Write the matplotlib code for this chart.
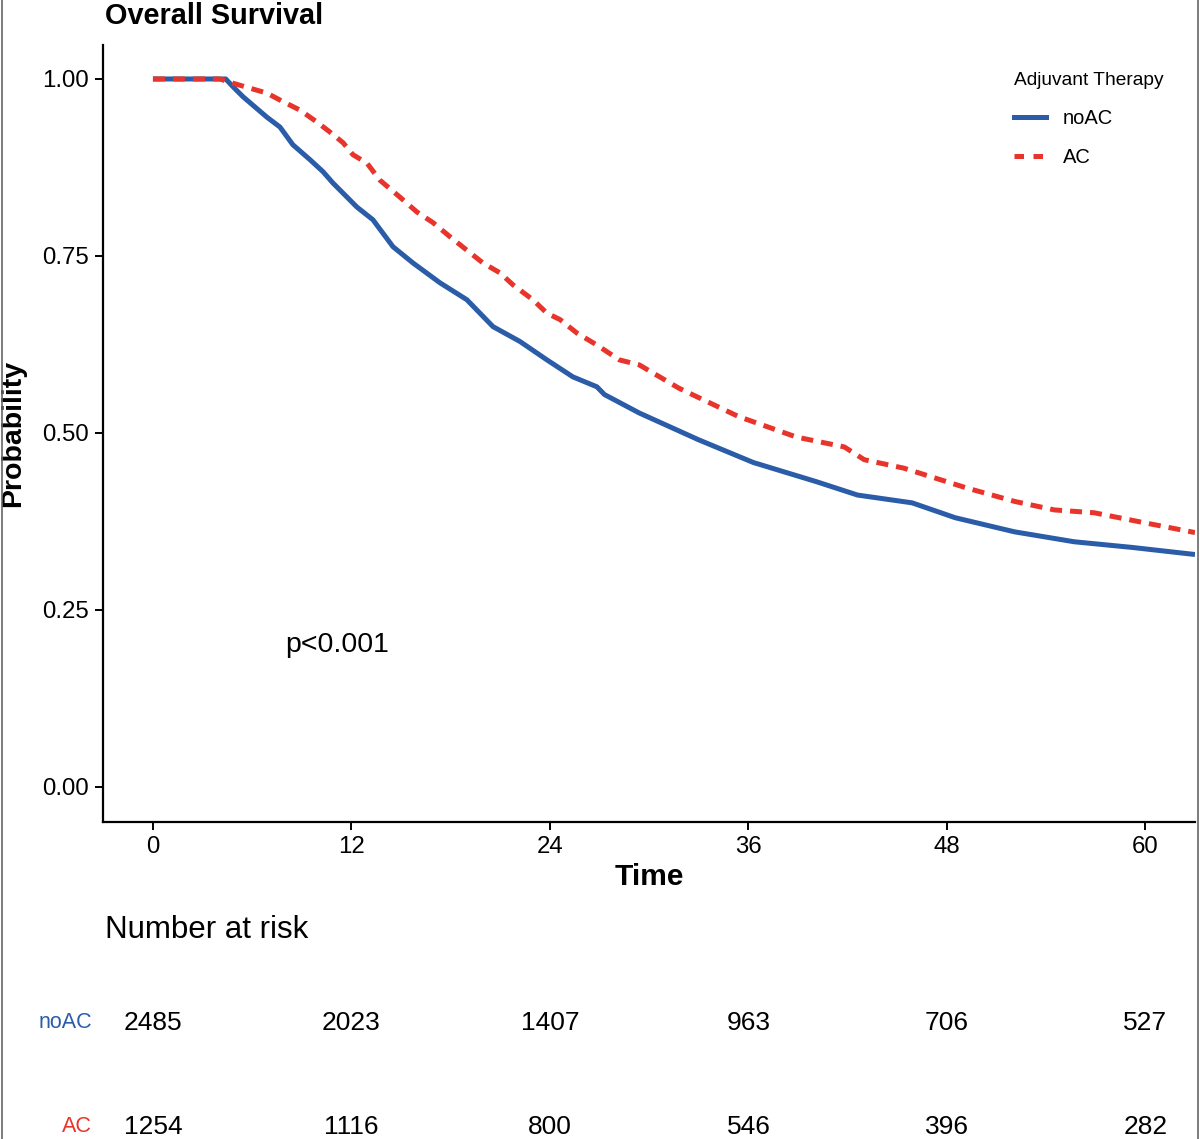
import matplotlib
matplotlib.use("Agg")
import matplotlib.pyplot as plt
from matplotlib.transforms import blended_transform_factory
from matplotlib.lines import Line2D

plt.rcParams['font.family'] = ['Liberation Sans', 'DejaVu Sans']

# curve points (months, survival probability)
noac_t = [0, 4.4, 4.84, 5.44, 6.89, 7.68, 8.46, 9.49, 10.28, 10.88, 12.33, 13.30,
          14.51, 15.72, 17.35, 18.98, 20.56, 22.19, 23.82, 25.39, 26.84, 27.3,
          29.4, 33.0, 36.3, 40.1, 42.6, 45.9, 48.5, 52.1, 55.7, 59.2, 63.0]
noac_s = [1.0, 1.0, 0.989, 0.975, 0.946, 0.932, 0.907, 0.886, 0.869, 0.853, 0.819, 0.801,
          0.763, 0.740, 0.712, 0.688, 0.650, 0.629, 0.603, 0.579, 0.565, 0.554,
          0.528, 0.490, 0.458, 0.431, 0.412, 0.401, 0.380, 0.360, 0.346, 0.338, 0.328]

ac_t = [0, 4.05, 4.84, 5.86, 6.89, 7.86, 8.89, 9.92, 10.70, 11.49, 12.09, 12.94,
        13.72, 14.93, 15.96, 16.93, 17.96, 18.98, 19.95, 20.98, 21.77, 22.97,
        23.82, 24.61, 25.63, 26.84, 28.2, 29.4, 31.8, 35.4, 38.9, 41.8, 43.0,
        45.4, 49.2, 52.1, 54.5, 56.9, 59.7, 63.0]
ac_s = [1.0, 1.0, 0.994, 0.987, 0.980, 0.968, 0.956, 0.939, 0.925, 0.910, 0.893, 0.881,
        0.857, 0.833, 0.812, 0.797, 0.777, 0.758, 0.740, 0.726, 0.709, 0.688,
        0.669, 0.660, 0.641, 0.624, 0.603, 0.596, 0.563, 0.523, 0.494, 0.480, 0.462,
        0.450, 0.422, 0.403, 0.391, 0.387, 0.374, 0.359]

risk_times = [0, 12, 24, 36, 48, 60]
risk_noac = [2485, 2023, 1407, 963, 706, 527]
risk_ac = [1254, 1116, 800, 546, 396, 282]

groups = ['noAC', 'AC']
colors = {'noAC': '#2a5ca8', 'AC': '#e8342a'}

fig = plt.figure(figsize=(12, 11.39), dpi=100)
ax = fig.add_axes([103/1200, 1 - 822/1139, 1092/1200, 777/1139])

ax.plot(noac_t, noac_s, color=colors['noAC'], lw=3.6, solid_capstyle='butt')
ax.plot(ac_t, ac_s, color=colors['AC'], lw=3.6, dashes=(2.4, 1.6))

ax.set_xlim(-3.02, 63.0)
ax.set_ylim(-0.05, 1.048)
ax.set_xticks(risk_times)
ax.set_yticks([0, 0.25, 0.5, 0.75, 1.0])
ax.set_yticklabels(['0.00', '0.25', '0.50', '0.75', '1.00'])
ax.spines['top'].set_visible(False)
ax.spines['right'].set_visible(False)
for sp in ('left', 'bottom'):
    ax.spines[sp].set_linewidth(1.6)
ax.tick_params(axis='both', labelsize=17.3, width=1.4, length=6, direction='out',
               pad=4)

ax.set_xlabel('Time', fontsize=21.5, fontweight='bold', labelpad=4)
ax.set_ylabel('Probability', fontsize=20.5, fontweight='bold', labelpad=12)
fig.text(105/1200, 1 - 16/1139, 'Overall Survival', fontsize=20.8,
         fontweight='bold', ha='left', va='center')

ax.text(8.0, 0.20, 'p<0.001', fontsize=20.5, ha='left', va='center')

handles = [Line2D([], [], color=colors['noAC'], lw=3.6),
           Line2D([], [], color=colors['AC'], lw=3.6, dashes=(1.9, 1.9))]
leg = fig.legend(handles, groups, title='Adjuvant Therapy', loc='upper left',
                 bbox_to_anchor=(996/1200, 1 - 54/1139), frameon=False,
                 fontsize=14.5, title_fontsize=13.8, labelspacing=1.0,
                 handlelength=1.6, handletextpad=0.8)
leg._legend_box.align = 'left'

# number at risk table
tr = blended_transform_factory(ax.transData, fig.transFigure)
fig.text(105/1200, 1 - 930/1139, 'Number at risk', fontsize=22.5,
         ha='left', va='center')
rows = [('noAC', risk_noac, 1 - 1023/1139), ('AC', risk_ac, 1 - 1127/1139)]
for name, vals, yy in rows:
    fig.text(92/1200, yy, name, fontsize=15.5, color=colors[name],
             ha='right', va='center')
    for t, v in zip(risk_times, vals):
        ax.text(t, yy, str(v), transform=tr, fontsize=19, ha='center',
                va='center', clip_on=False)

# thin frame lines at the image edges
for xx in (1.5/1200, 1198/1200):
    fig.add_artist(Line2D([xx, xx], [0, 1], color='#666666', lw=1.2,
                          transform=fig.transFigure))

fig.savefig('out.png', dpi=100)
